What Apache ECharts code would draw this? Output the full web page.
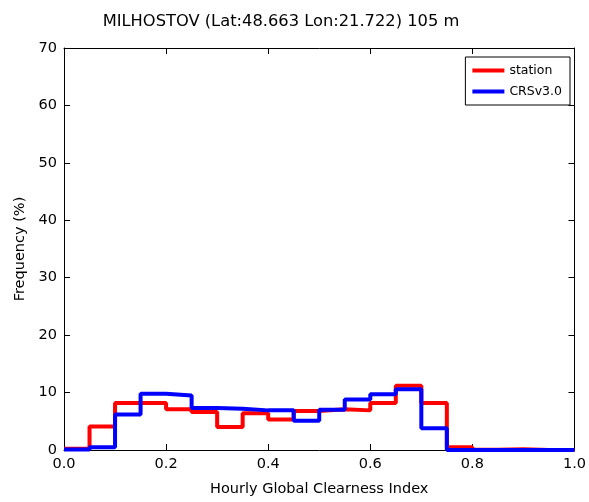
<!DOCTYPE html>
<html><head><meta charset="utf-8">
<script src="https://cdn.jsdelivr.net/npm/echarts@6/dist/echarts.min.js"></script>
<style>html,body{margin:0;padding:0;background:#fff}#c{width:589px;height:502px}</style>
</head><body><div id="c"></div>
<script>
const binEdges = [0.0,0.05,0.1,0.15,0.2,0.25,0.3,0.35,0.4,0.45,0.5,0.55,0.6,0.65,0.7,0.75,0.8,0.85,0.9,0.95,1.0];
const station = [0.2,4.1,8.2,8.2,7.1,6.6,4.0,6.4,5.3,6.8,7.1,6.9,8.2,11.2,8.2,0.5,0.05,0.15,0.02,0.0];
const crs = [0.1,0.5,6.2,9.8,9.5,7.3,7.2,6.9,6.9,5.1,7.0,8.8,9.7,10.6,3.8,0.0,0.0,0.0,0.0,0.0];
const xTicks = [0.0,0.2,0.4,0.6,0.8,1.0];
const yTicks = [0,10,20,30,40,50,60,70];

function stepData(vals){
  const d = vals.map((v,i)=>[binEdges[i], v]);
  d.push([binEdges[binEdges.length-1], vals[vals.length-1]]);
  return d;
}
const font = 'DejaVu Sans';
const chart = echarts.init(document.getElementById('c'), null, {renderer:'canvas'});
const axisCommon = {
  axisLine:{show:true, onZero:false, lineStyle:{color:'#000', width:1}},
  splitLine:{show:false},
};
const tick = {show:true, inside:true, length:6, lineStyle:{color:'#000'}};
chart.setOption({
  animation:false,
  backgroundColor:'#fff',
  title:{text:'MILHOSTOV (Lat:48.663 Lon:21.722) 105 m', left:276, textAlign:'center', top:9,
    textStyle:{fontFamily:font, fontWeight:'normal', fontSize:16.3, color:'#000'}},
  grid:{left:64, right:13, top:48, bottom:52},
  legend:{right:19, top:57, orient:'vertical', itemWidth:32, itemHeight:4, itemGap:8,
    padding:[7,8,7,7], borderColor:'#000', borderWidth:1, backgroundColor:'#fff', borderRadius:0,
    textStyle:{fontFamily:font, fontSize:12.5, color:'#000'},
    data:[{name:'station', icon:'rect'},{name:'CRSv3.0', icon:'rect'}]},
  xAxis:[{type:'value', min:0, max:1, interval:0.2, position:'bottom',
    name:'Hourly Global Clearness Index', nameLocation:'middle', nameGap:32,
    nameTextStyle:{fontFamily:font, fontSize:14.5, color:'#000'},
    axisTick:tick,
    axisLabel:{fontFamily:font, fontSize:14.5, color:'#000', margin:7, formatter:v=>v.toFixed(1)},
    ...axisCommon},
    {type:'value', min:0, max:1, interval:0.2, position:'top',
    axisTick:tick, axisLabel:{show:false}, ...axisCommon}],
  yAxis:[{type:'value', min:0, max:70, interval:10, position:'left',
    name:'Frequency (%)', nameLocation:'middle', nameGap:35,
    nameTextStyle:{fontFamily:font, fontSize:14.5, color:'#000'},
    axisTick:tick,
    axisLabel:{fontFamily:font, fontSize:14.5, color:'#000', margin:7},
    ...axisCommon},
    {type:'value', min:0, max:70, interval:10, position:'right',
    axisTick:tick, axisLabel:{show:false}, ...axisCommon}],
  series:[
    {name:'station', type:'line', step:'end', data:stepData(station), symbol:'none',
     lineStyle:{color:'#ff0000', width:4}, itemStyle:{color:'#ff0000'}},
    {name:'CRSv3.0', type:'line', step:'end', data:stepData(crs), symbol:'none',
     lineStyle:{color:'#0000ff', width:4}, itemStyle:{color:'#0000ff'}}
  ]
});
</script></body></html>
